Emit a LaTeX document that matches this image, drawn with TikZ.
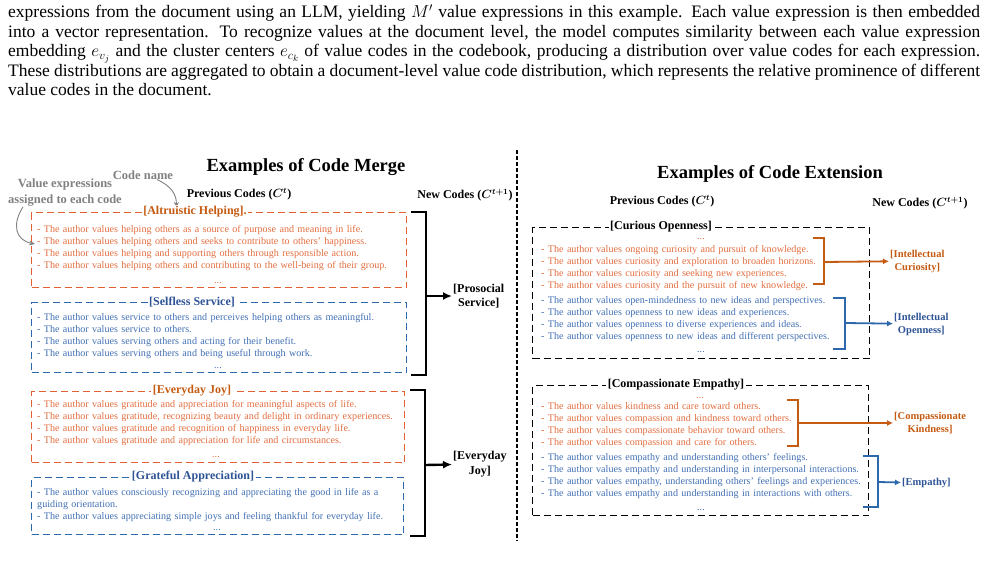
\documentclass[tikz,border=0pt]{standalone}
\usepackage{amsmath,bm}
\usepackage{fontspec}
\setmainfont{Liberation Serif}
\usetikzlibrary{positioning,arrows.meta}

\definecolor{orngtitle}{RGB}{197,90,17}
\definecolor{orngtext}{RGB}{226,110,64}
\definecolor{orngline}{RGB}{226,96,52}
\definecolor{bluetitle}{RGB}{46,84,150}
\definecolor{bluetext}{RGB}{66,112,180}
\definecolor{blueline}{RGB}{46,104,172}
\definecolor{notegray}{RGB}{128,128,128}

\newcommand{\fsz}[2]{\fontsize{#1pt}{#2pt}\selectfont}

\tikzset{
  heading/.style={inner sep=0pt,font=\fsz{18.5}{22}\bfseries},
  colhead/.style={inner sep=0pt,font=\fsz{12}{14}\bfseries},
  codebox/.style={draw=#1,dash pattern=on 7pt off 4pt,line width=1.1pt,
    anchor=north west,inner sep=0pt},
  codetitle/.style={fill=white,inner sep=1.5pt,font=\fsz{12}{14}\bfseries},
  exprs/.style={anchor=base west,inner sep=0pt,text width=400pt,align=left,
    font=\fsz{10.1}{12.3}},
  moredots/.style={anchor=base,inner sep=0pt,font=\fsz{10.1}{12.3}},
  newcode/.style={anchor=west,align=center,inner sep=1pt,font=\fsz{12}{14.5}\bfseries},
  extcode/.style={anchor=west,align=center,inner sep=1pt,font=\fsz{10.5}{13}\bfseries},
  mergebrk/.style={line width=2.4pt},
  mergearr/.style={line width=2.4pt,-{Latex[length=9pt,width=8pt]}},
  extbrk/.style={line width=1.8pt,draw=#1},
  extarr/.style={line width=1.8pt,draw=#1,fill=#1,-{Latex[length=6pt,width=6pt]}},
  note/.style={text=notegray,align=center,inner sep=0pt,font=\fsz{12.5}{16}\bfseries},
  notearr/.style={notegray,line width=0.9pt,-{Stealth[length=6pt,width=5pt]}},
  divline/.style={line width=1.1pt,dash pattern=on 4pt off 2pt}
}

\begin{document}
\begin{tikzpicture}[x=1pt,y=-1pt]
\useasboundingbox (0,0) rectangle (987,560);

% running text above the figure
\node[anchor=base west,inner sep=0pt,text width=972pt,align=justify,
  font=\fsz{17.5}{19.6}] (para) at (8,17.5) {\hyphenpenalty=10000
  expressions from the document using an LLM, yielding $M'$ value expressions in this example. Each value expression is then embedded\linebreak
  into a vector representation. To recognize values at the document level, the model computes similarity between each value expression\linebreak
  embedding $e_{v_j}$ and the cluster centers $e_{c_k}$ of value codes in the codebook, producing a distribution over value codes for each expression.\linebreak
  These distributions are aggregated to obtain a document-level value code distribution, which represents the relative prominence of different\linebreak
  value codes in the document.};

% headings
\node[heading] (mergeT) at (306,167) {Examples of Code Merge};
\node[heading] (extT) at (770,174) {Examples of Code Extension};
\node[colhead] (prevL) at (239,194) {Previous Codes ($\bm{C}^{\bm{t}}$)};
\node[colhead] (newL) at (465,195) {New Codes ($\bm{C}^{\bm{t+1}}$)};
\node[colhead] (prevR) at (662,201) {Previous Codes ($\bm{C}^{\bm{t}}$)};
\node[colhead] (newR) at (920,203) {New Codes ($\bm{C}^{\bm{t+1}}$)};

\draw[divline] (517,150) -- (517,541);

% notes
\node[note] (codeN) at (143,175) {Code name};
\node[note] (valN) at (65,193) {Value expressions\\assigned to each code};
\coordinate (codeTip) at (176,208);
\coordinate (valTip) at (35,244);
\draw[notearr] ([xshift=14pt]codeN.south) .. controls (172,186) and (177,196) .. (codeTip);
\draw[notearr] ([xshift=-42pt]valN.south) .. controls (12,224) and (15,240) .. (valTip);

% code merge: boxes
\node[codebox=orngline,minimum width=375pt,minimum height=75pt] (altr) at (31,212) {};
\node[codetitle,text=orngtitle] (altrT) at (195,212) {[Altruistic Helping].};
\node[exprs,text=orngtext] (altrE) at (37,232) {- The author values helping others as a source of purpose and meaning in life.\\
- The author values helping others and seeks to contribute to others' happiness.\\
- The author values helping and supporting others through responsible action.\\
- The author values helping others and contributing to the well-being of their group.};
\node[moredots,text=orngtext] (altrD) at (218,283) {...};

\node[codebox=blueline,minimum width=375pt,minimum height=70pt] (self) at (31,302) {};
\node[codetitle,text=bluetitle] (selfT) at (192,302) {[Selfless Service]};
\node[exprs,text=bluetext] (selfE) at (37,320) {- The author values service to others and perceives helping others as meaningful.\\
- The author values service to others.\\
- The author values serving others and acting for their benefit.\\
- The author values serving others and being useful through work.};
\node[moredots,text=bluetext] (selfD) at (218,368) {...};

\node[codebox=orngline,minimum width=373pt,minimum height=71pt] (joy) at (31,391) {};
\node[codetitle,text=orngtitle] (joyT) at (192,391) {[Everyday Joy]};
\node[exprs,text=orngtext] (joyE) at (37,407) {- The author values gratitude and appreciation for meaningful aspects of life.\\
- The author values gratitude, recognizing beauty and delight in ordinary experiences.\\
- The author values gratitude and recognition of happiness in everyday life.\\
- The author values gratitude and appreciation for life and circumstances.};
\node[moredots,text=orngtext] (joyD) at (216,457) {...};

\node[codebox=blueline,minimum width=372pt,minimum height=57pt] (grat) at (31,477) {};
\node[codetitle,text=bluetitle] (gratT) at (193,477) {[Grateful Appreciation]};
\node[exprs,text=bluetext] (gratE) at (37,495) {- The author values consciously recognizing and appreciating the good in life as a\\
guiding orientation.\\
- The author values appreciating simple joys and feeling thankful for everyday life.};
\node[moredots,text=bluetext] (gratD) at (217,530) {...};

% code merge: new codes
\node[newcode] (prosoc) at (452,296) {[Prosocial\\Service]};
\node[newcode] (evjoy) at (452,464) {[Everyday\\Joy]};
\coordinate (mg1) at (426,296);
\coordinate (mg2) at (425,465);
\draw[mergebrk] ([xshift=4pt]altr.north east) -- (426,212) -- (426,375) -- (411,375);
\draw[mergearr] (mg1) -- (prosoc);
\draw[mergebrk] (410,390) -- (425,390) -- (425,536) -- (410,536);
\draw[mergearr] (mg2) -- (evjoy);

% code extension: boxes
\node[codebox=black,minimum width=337pt,minimum height=131pt] (curi) at (532,227) {};
\node[codetitle] (curiT) at (661,227) {[Curious Openness]};
\node[moredots,text=orngtext] (curiD1) at (701,239) {...};
\node[exprs,text=orngtext] (curiO) at (541,252) {- The author values ongoing curiosity and pursuit of knowledge.\\
- The author values curiosity and exploration to broaden horizons.\\
- The author values curiosity and seeking new experiences.\\
- The author values curiosity and the pursuit of new knowledge.};
\node[exprs,text=bluetext] (curiB) at (541,303) {- The author values open-mindedness to new ideas and perspectives.\\
- The author values openness to new ideas and experiences.\\
- The author values openness to diverse experiences and ideas.\\
- The author values openness to new ideas and different perspectives.};
\node[moredots,text=bluetext] (curiD2) at (701,352) {...};

\node[codebox=black,minimum width=336pt,minimum height=130pt] (comp) at (532,385) {};
\node[codetitle] (compT) at (676,385) {[Compassionate Empathy]};
\node[moredots,text=orngtext] (compD1) at (700,398) {...};
\node[exprs,text=orngtext] (compO) at (541,409) {- The author values kindness and care toward others.\\
- The author values compassion and kindness toward others.\\
- The author values compassionate behavior toward others.\\
- The author values compassion and care for others.};
\node[exprs,text=bluetext] (compB) at (541,460) {- The author values empathy and understanding others' feelings.\\
- The author values empathy and understanding in interpersonal interactions.\\
- The author values empathy, understanding others' feelings and experiences.\\
- The author values empathy and understanding in interactions with others.};
\node[moredots,text=bluetext] (compD2) at (701,510) {...};

% code extension: new codes
\node[extcode,text=orngtitle] (intcur) at (889,261) {[Intellectual\\Curiosity]};
\node[extcode,text=bluetitle] (intopen) at (893,324) {[Intellectual\\Openness]};
\node[extcode,text=orngtitle] (compkind) at (893,423) {[Compassionate\\Kindness]};
\node[extcode,text=bluetitle] (empath) at (901,483) {[Empathy]};
\coordinate (ex1) at (824,262);
\coordinate (ex2) at (845,323);
\coordinate (ex3) at (798,423);
\coordinate (ex4) at (878,482);
\draw[extbrk=orngtitle] (813,238) -- (824,238) -- (824,284) -- (813,284);
\draw[extarr=orngtitle] (ex1) -- (intcur);
\draw[extbrk=blueline] (833,298) -- (845,298) -- (845,349) -- (833,349);
\draw[extarr=blueline] (ex2) -- (intopen);
\draw[extbrk=orngtitle] (787,400) -- (798,400) -- (798,446) -- (787,446);
\draw[extarr=orngtitle] (ex3) -- (compkind);
\draw[extbrk=blueline] (863,456) -- (878,456) -- (878,507) -- (863,507);
\draw[extarr=blueline] (ex4) -- (empath);
\end{tikzpicture}
\end{document}
